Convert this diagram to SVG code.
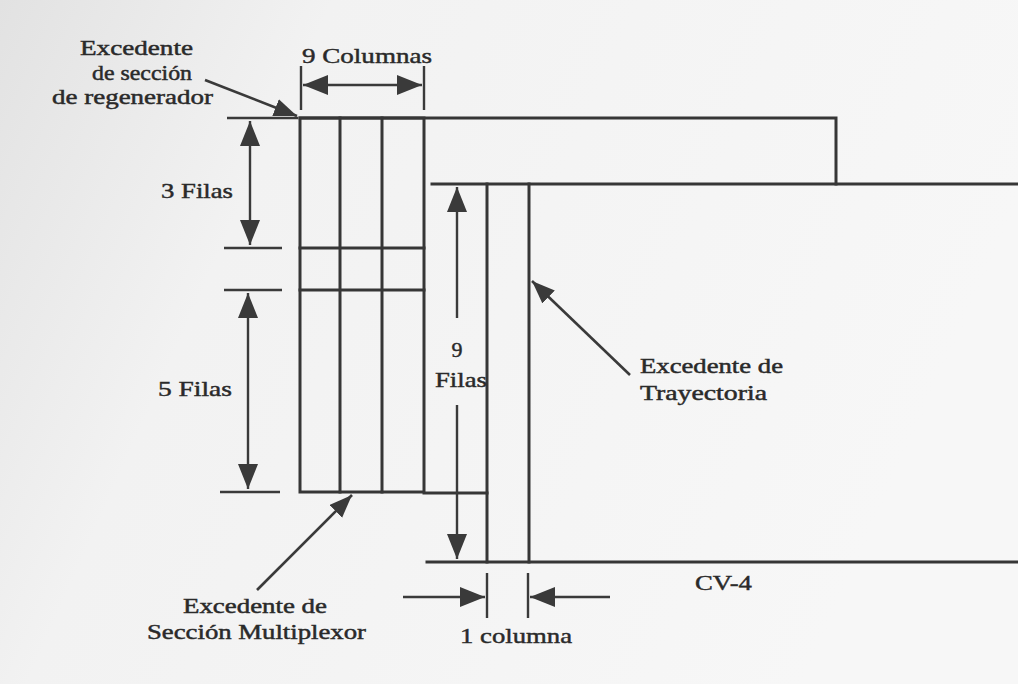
<svg xmlns="http://www.w3.org/2000/svg" width="1018" height="684" viewBox="0 0 1018 684">
<style>
.ln{stroke:#363636;stroke-width:3;fill:none;stroke-linecap:square}
.thin{stroke:#3a3a3a;stroke-width:2.4;fill:none}
.dim{stroke:#3a3a3a;stroke-width:2.4;fill:none;marker-end:url(#ah)}
.dim2{stroke:#3a3a3a;stroke-width:2.4;fill:none;marker-end:url(#ah);marker-start:url(#ah)}
.lead{stroke:#3a3a3a;stroke-width:2.6;fill:none;marker-end:url(#ahl)}
text{font-family:"Liberation Serif","DejaVu Serif",serif;fill:#2a2a2a;stroke:#2a2a2a;stroke-width:0.45}
.t{font-size:22px}
.s{font-size:20px}
</style>
<defs>
<linearGradient id="bg" x1="0" y1="0" x2="1" y2="0.3">
<stop offset="0" stop-color="#e2e2e2"/>
<stop offset="0.3" stop-color="#f2f2f2"/>
<stop offset="1" stop-color="#f7f7f7"/>
</linearGradient>
<marker id="ah" markerUnits="userSpaceOnUse" markerWidth="28" markerHeight="22" refX="25" refY="10" orient="auto-start-reverse">
<path d="M0,0 L25,10 L0,20 z" fill="#3a3a3a"/>
</marker>
<marker id="ahl" markerUnits="userSpaceOnUse" markerWidth="26" markerHeight="20" refX="23" refY="9" orient="auto">
<path d="M0,0 L23,9 L0,18 z" fill="#3a3a3a"/>
</marker>
</defs>
<rect x="0" y="0" width="1018" height="684" fill="url(#bg)"/>

<g id="frame-top">
<polyline class="ln" points="300,118 836,118 836,184"/>
</g>
<g id="frame-main">
<line class="ln" x1="432" y1="184" x2="1018" y2="184"/>
<line class="ln" x1="427" y1="562" x2="1018" y2="562"/>
<line class="ln" x1="487" y1="184" x2="487" y2="562"/>
<line class="ln" x1="529" y1="184" x2="529" y2="562"/>
</g>
<g id="grid-soh">
<rect class="ln" x="300" y="118" width="124" height="374"/>
<line class="ln" x1="340" y1="118" x2="340" y2="492"/>
<line class="ln" x1="382" y1="118" x2="382" y2="492"/>
<line class="ln" x1="300" y1="248" x2="424" y2="248"/>
<line class="ln" x1="300" y1="290" x2="424" y2="290"/>
<line class="ln" x1="424" y1="493" x2="487" y2="493"/>
</g>

<g id="connectors">
<line class="thin" x1="301" y1="66" x2="301" y2="110"/>
<line class="thin" x1="424" y1="66" x2="424" y2="110"/>
<line class="dim2" x1="303" y1="85" x2="422" y2="85"/>
<line class="thin" x1="227" y1="118" x2="298" y2="118"/>
<line class="thin" x1="224" y1="248" x2="282" y2="248"/>
<line class="dim2" x1="250" y1="121" x2="250" y2="245"/>
<line class="thin" x1="224" y1="290" x2="282" y2="290"/>
<line class="thin" x1="220" y1="492" x2="280" y2="492"/>
<line class="dim2" x1="248" y1="293" x2="248" y2="489"/>
<line class="dim" x1="457" y1="318" x2="457" y2="187"/>
<line class="dim" x1="457" y1="405" x2="457" y2="559"/>
<line class="thin" x1="487" y1="573" x2="487" y2="618"/>
<line class="thin" x1="528" y1="573" x2="528" y2="618"/>
<line class="dim" x1="403" y1="597" x2="485" y2="597"/>
<line class="dim" x1="610" y1="597" x2="530" y2="597"/>
<line class="lead" x1="205" y1="80" x2="297" y2="116"/>
<line class="lead" x1="257" y1="590" x2="352" y2="495"/>
<line class="lead" x1="630" y1="375" x2="532" y2="281"/>
</g>

<g id="labels">
<text class="s" x="80" y="55" textLength="113" lengthAdjust="spacingAndGlyphs">Excedente</text>
<text class="s" x="92" y="80" textLength="100" lengthAdjust="spacingAndGlyphs">de sección</text>
<text class="s" x="52" y="104" textLength="161" lengthAdjust="spacingAndGlyphs">de regenerador</text>
<text class="t" x="302" y="63" textLength="130" lengthAdjust="spacingAndGlyphs">9 Columnas</text>
<text class="t" x="161" y="198" textLength="72" lengthAdjust="spacingAndGlyphs">3 Filas</text>
<text class="t" x="158" y="396" textLength="74" lengthAdjust="spacingAndGlyphs">5 Filas</text>
<text class="t" x="457" y="357" text-anchor="middle">9</text>
<text class="t" x="435" y="387" textLength="52" lengthAdjust="spacingAndGlyphs">Filas</text>
<text class="s" x="640" y="373" textLength="143" lengthAdjust="spacingAndGlyphs">Excedente de</text>
<text class="s" x="640" y="400" textLength="127" lengthAdjust="spacingAndGlyphs">Trayectoria</text>
<text class="t" x="695" y="590" textLength="57" lengthAdjust="spacingAndGlyphs">CV-4</text>
<text class="s" x="183" y="613" textLength="144" lengthAdjust="spacingAndGlyphs">Excedente de</text>
<text class="s" x="147" y="639" textLength="219" lengthAdjust="spacingAndGlyphs">Sección Multiplexor</text>
<text class="t" x="460" y="643" textLength="112" lengthAdjust="spacingAndGlyphs">1 columna</text>
</g>
</svg>
